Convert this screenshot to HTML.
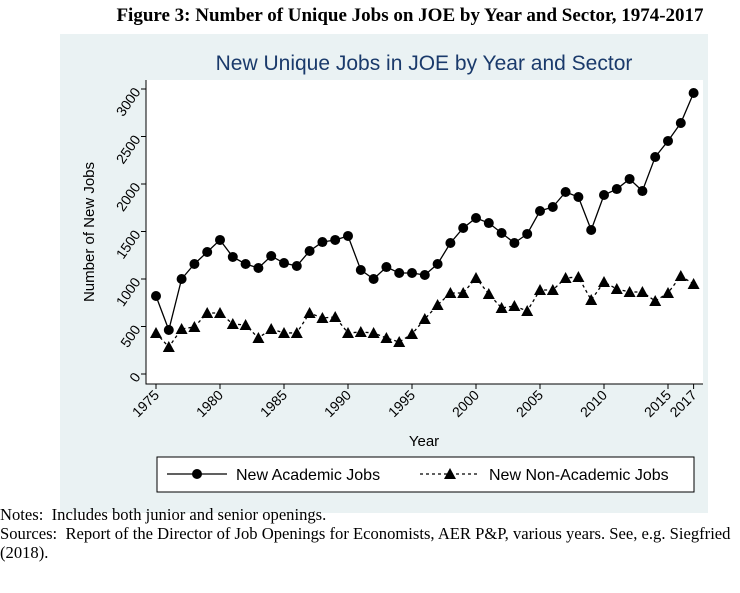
<!DOCTYPE html>
<html><head><meta charset="utf-8"><style>
body{margin:0;background:#fff;width:740px;height:593px;overflow:hidden;font-family:"Liberation Serif",serif}
.notes{position:absolute;left:0;font-size:16.6px;color:#000;white-space:nowrap}
</style></head><body>
<div style="position:absolute;top:5px;left:40px;width:740px;text-align:center;font-weight:bold;font-size:19px;white-space:nowrap">Figure 3: Number of Unique Jobs on JOE by Year and Sector, 1974-2017</div>
<svg id="chart" width="740" height="593" style="position:absolute;left:0;top:0" font-family="Liberation Sans, sans-serif"></svg>
<div class="notes" style="top:505px">Notes:&nbsp; Includes both junior and senior openings.</div>
<div class="notes" style="top:524px">Sources:&nbsp; Report of the Director of Job Openings for Economists, AER P&amp;P, various years. See, e.g. Siegfried</div>
<div class="notes" style="top:543px">(2018).</div>
<script>
const years=[1975,1976,1977,1978,1979,1980,1981,1982,1983,1984,1985,1986,1987,1988,1989,1990,1991,1992,1993,1994,1995,1996,1997,1998,1999,2000,2001,2002,2003,2004,2005,2006,2007,2008,2009,2010,2011,2012,2013,2014,2015,2016,2017];
const academic=[821,463,1000,1158,1284,1411,1232,1158,1116,1242,1168,1137,1295,1389,1411,1453,1095,1000,1126,1063,1063,1042,1158,1379,1537,1642,1589,1484,1379,1474,1716,1758,1916,1863,1516,1884,1947,2053,1926,2284,2453,2642,2958];
const nonAcademic=[432,284,474,495,642,642,526,516,379,474,432,432,642,590,600,432,442,432,379,337,421,579,726,853,853,1011,842,695,716,663,884,884,1011,1021,779,968,895,863,863,768,853,1032,947];
const yTicks=[0,500,1000,1500,2000,2500,3000];
const xTicks=[1975,1980,1985,1990,1995,2000,2005,2010,2015,2017];
const NS='http://www.w3.org/2000/svg';
const svg=document.getElementById('chart');
const X=y=>156+(y-1975)*12.8, Y=v=>374-v*0.095;
function mk(t,a,p){const e=document.createElementNS(NS,t);for(const k in a)e.setAttribute(k,a[k]);(p||svg).appendChild(e);return e;}
let e;
e=mk('rect',{x:60,y:34,width:648,height:479,fill:'#eaf2f3'});


e=mk('rect',{x:146,y:80,width:557,height:304,fill:'#fff'});


e=mk('text',{x:424,y:70,'text-anchor':'middle','font-size':21,fill:'#1a3a6b'});e.textContent='New Unique Jobs in JOE by Year and Sector';


e=mk('path',{d:'M146,80V384H703',stroke:'#000','stroke-width':1,fill:'none'});


yTicks.forEach(v=>{
  const t=mk('line',{x1:141,x2:146,y1:Y(v),y2:Y(v),stroke:'#000'});
  
  
  const l=mk('text',{x:137,y:Y(v)+5,'text-anchor':'end','font-size':14,transform:`rotate(-55 137 ${Y(v)})`});l.textContent=v;
  
  
});
xTicks.forEach(v=>{
  const t=mk('line',{x1:X(v),x2:X(v),y1:384,y2:389,stroke:'#000'});
  
  
  const l=mk('text',{x:X(v)+4,y:396,'text-anchor':'end','font-size':14,transform:`rotate(-45 ${X(v)+4} 396)`});l.textContent=v;
  
  
});
e=mk('text',{x:424,y:446,'text-anchor':'middle','font-size':15});e.textContent='Year';


e=mk('text',{x:94,y:232,'text-anchor':'middle','font-size':15,transform:'rotate(-90 94 232)'});e.textContent='Number of New Jobs';


e=mk('polyline',{points:years.map((y,i)=>X(y)+','+Y(academic[i])).join(' '),fill:'none',stroke:'#000','stroke-width':1.3});


e=mk('polyline',{points:years.map((y,i)=>X(y)+','+Y(nonAcademic[i])).join(' '),fill:'none',stroke:'#000','stroke-width':1.3,'stroke-dasharray':'3,3'});


function tri(x,y,p){return mk('polygon',{points:`${x},${y-6} ${x-6},${y+5} ${x+6},${y+5}`,fill:'#000'},p);}
years.forEach((y,i)=>{
  const c=mk('circle',{cx:X(y),cy:Y(academic[i]),r:5,fill:'#000'});
  
  
  const t=tri(X(y),Y(nonAcademic[i]));
  
  
});
e=mk('rect',{x:157,y:457,width:537,height:35,fill:'#fff',stroke:'#000'});


e=mk('line',{x1:167,x2:227,y1:474,y2:474,stroke:'#000','stroke-width':1.3});


e=mk('circle',{cx:197,cy:474,r:5,fill:'#000'});


e=mk('text',{x:236,y:480,'font-size':16});e.textContent='New Academic Jobs';


e=mk('line',{x1:420,x2:480,y1:474,y2:474,stroke:'#000','stroke-width':1.2,'stroke-dasharray':'3,3'});


e=tri(450,474);


e=mk('text',{x:489,y:480,'font-size':16});e.textContent='New Non-Academic Jobs';


</script>
</body></html>
